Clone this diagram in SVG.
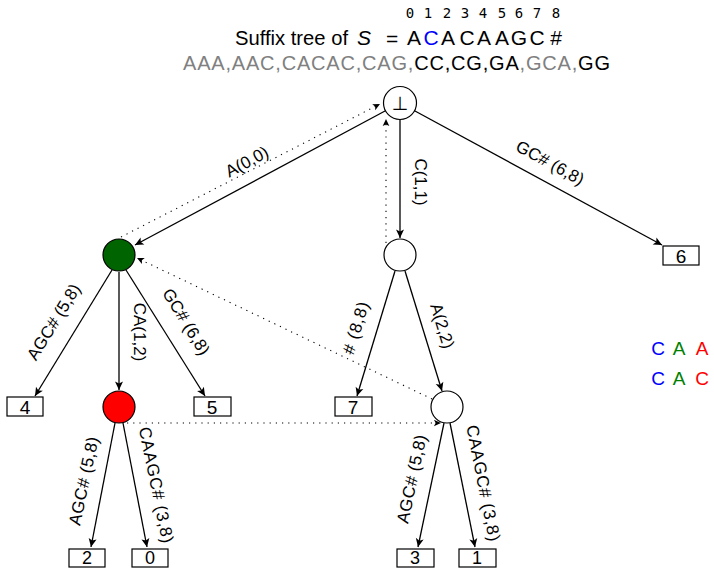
<svg xmlns="http://www.w3.org/2000/svg" width="714" height="568" viewBox="0 0 714 568">
  <defs>
    <marker id="arr" viewBox="-10 -5 12 10" refX="0" refY="0" markerWidth="12" markerHeight="10" markerUnits="userSpaceOnUse" orient="auto">
      <path d="M0,0 L-8.5,-4 L-6.5,0 L-8.5,4 Z" fill="#000"/>
    </marker>
    <marker id="arrDot" viewBox="-10 -5 12 10" refX="0" refY="0" markerWidth="10" markerHeight="8.3" markerUnits="userSpaceOnUse" orient="auto">
      <path d="M0,0 L-8.5,-4 L-6.5,0 L-8.5,4 Z" fill="#000"/>
    </marker>
  </defs>
  <style>
    text { font-family: "Liberation Sans", Arial, sans-serif; fill: #000; }
    .edge { stroke: #000; stroke-width: 1.3; fill: none; marker-end: url(#arr); }
    .link { stroke: #000; stroke-width: 1.1; fill: none; stroke-dasharray: 1.2 5; marker-end: url(#arrDot); }
    .node { stroke: #000; stroke-width: 1.2; }
    .leaf { fill: #fff; stroke: #000; stroke-width: 1.2; }
    .lbl { font-size: 17px; text-anchor: middle; dominant-baseline: central; }
    .num { font-size: 19px; text-anchor: middle; }
    .numb { font-size: 18px; text-anchor: middle; }
    .idx { font-family: "DejaVu Sans Mono", monospace; font-size: 14px; text-anchor: middle; }
    .str { font-size: 21px; text-anchor: middle; }
    .gray { fill: #808080; }
    .big { font-size: 19px; text-anchor: middle; }
    .bot { font-family: "DejaVu Sans", sans-serif; font-size: 19px; text-anchor: middle; }
  </style>

  <!-- heading: the string and its positions -->
  <g id="heading">
    <text x="235" y="45" font-size="20" textLength="113" lengthAdjust="spacingAndGlyphs">Suffix tree of</text>
    <text x="357" y="45" font-size="21" font-style="italic">S</text>
    <text x="386" y="46" font-size="21">=</text>
    <text class="idx" y="18"><tspan x="410">0</tspan><tspan x="428">1</tspan><tspan x="447">2</tspan><tspan x="465">3</tspan><tspan x="483">4</tspan><tspan x="502">5</tspan><tspan x="519">6</tspan><tspan x="537">7</tspan><tspan x="556">8</tspan></text>
    <text class="str" y="45"><tspan x="414">A</tspan><tspan x="431" fill="#0000ff">C</tspan><tspan x="448">A</tspan><tspan x="467">C</tspan><tspan x="484">A</tspan><tspan x="502">A</tspan><tspan x="519">G</tspan><tspan x="537">C</tspan><tspan x="556">#</tspan></text>
    <text x="183" y="70" font-size="20" textLength="427" lengthAdjust="spacing"><tspan class="gray">AAA,AAC,CACAC,CAG,</tspan>CC,CG,GA<tspan class="gray">,GCA,</tspan>GG</text>
  </g>

  <!-- side note -->
  <g id="note">
    <text class="big" y="355"><tspan x="658" fill="#0000ff">C</tspan><tspan x="679" fill="#008000">A</tspan><tspan x="702" fill="#ff0000">A</tspan></text>
    <text class="big" y="385"><tspan x="658" fill="#0000ff">C</tspan><tspan x="679" fill="#008000">A</tspan><tspan x="702" fill="#ff0000">C</tspan></text>
  </g>

  <!-- tree edges, suffix links and edge labels -->
  <g id="connectors">
    <line class="edge" x1="385" y1="111" x2="135" y2="245"/>
    <line class="edge" x1="400" y1="120" x2="400" y2="238"/>
    <line class="edge" x1="415" y1="111" x2="662" y2="245"/>
    <line class="edge" x1="112" y1="270" x2="35" y2="396"/>
    <line class="edge" x1="119" y1="272" x2="119" y2="390"/>
    <line class="edge" x1="126" y1="270" x2="205" y2="396"/>
    <line class="edge" x1="395" y1="271" x2="357" y2="396"/>
    <line class="edge" x1="405" y1="271" x2="442" y2="391"/>
    <line class="edge" x1="115" y1="423" x2="91" y2="547"/>
    <line class="edge" x1="123" y1="423" x2="147" y2="547"/>
    <line class="edge" x1="444" y1="423" x2="418" y2="547"/>
    <line class="edge" x1="450" y1="423" x2="475" y2="547"/>

    <line class="link" x1="121" y1="237" x2="380" y2="104"/>
    <line class="link" x1="386" y1="243" x2="386" y2="119"/>
    <line class="link" x1="432" y1="399" x2="137" y2="258"/>
    <line class="link" x1="127" y1="423" x2="441" y2="423"/>

    <text class="lbl" transform="translate(247,162) rotate(-28.4)">A(0,0)</text>
    <text class="lbl" transform="translate(420,182) rotate(90)">C(1,1)</text>
    <text class="lbl" transform="translate(550,163) rotate(28.6)">GC# (6,8)</text>
    <text class="lbl" transform="translate(54,322) rotate(-58.3)">AGC# (5,8)</text>
    <text class="lbl" transform="translate(139,332) rotate(90)">CA(1,2)</text>
    <text class="lbl" transform="translate(186,322) rotate(58.5)">GC# (6,8)</text>
    <text class="lbl" transform="translate(356,328) rotate(-73.2)" textLength="54">#  (8,8)</text>
    <text class="lbl" transform="translate(442,326) rotate(72.8)">A(2,2)</text>
    <text class="lbl" transform="translate(84,481) rotate(-78)" textLength="90">AGC# (5,8)</text>
    <text class="lbl" transform="translate(156,485) rotate(78.4)" textLength="118">CAAGC# (3,8)</text>
    <text class="lbl" transform="translate(412,479) rotate(-78)" textLength="90">AGC# (5,8)</text>
    <text class="lbl" transform="translate(483,483) rotate(78.8)" textLength="118">CAAGC# (3,8)</text>
  </g>

  <!-- internal nodes -->
  <g id="root">
    <circle class="node" cx="400" cy="103" r="16.5" fill="#fff"/>
    <text class="bot" x="400" y="110">⊥</text>
  </g>
  <g id="nodeA"><circle class="node" cx="119" cy="255" r="16" fill="#006400"/></g>
  <g id="nodeC"><circle class="node" cx="400" cy="255" r="16" fill="#fff"/></g>
  <g id="nodeACA"><circle class="node" cx="119" cy="407" r="16" fill="#ff0000"/></g>
  <g id="nodeCA"><circle class="node" cx="447" cy="407" r="16" fill="#fff"/></g>

  <!-- leaves -->
  <g id="leaf6"><rect class="leaf" x="663" y="246" width="36" height="19"/><text class="num" x="681" y="263">6</text></g>
  <g id="leaf4"><rect class="leaf" x="7" y="397" width="36" height="19"/><text class="num" x="25" y="414">4</text></g>
  <g id="leaf5"><rect class="leaf" x="194" y="397" width="37" height="19"/><text class="num" x="212" y="414">5</text></g>
  <g id="leaf7"><rect class="leaf" x="335" y="397" width="37" height="19"/><text class="num" x="353" y="414">7</text></g>
  <g id="leaf2"><rect class="leaf" x="69" y="549" width="36" height="18"/><text class="numb" x="87" y="564">2</text></g>
  <g id="leaf0"><rect class="leaf" x="132" y="549" width="36" height="18"/><text class="numb" x="150" y="564">0</text></g>
  <g id="leaf3"><rect class="leaf" x="397" y="549" width="37" height="18"/><text class="numb" x="415" y="564">3</text></g>
  <g id="leaf1"><rect class="leaf" x="459" y="549" width="37" height="18"/><text class="numb" x="477" y="564">1</text></g>
</svg>
